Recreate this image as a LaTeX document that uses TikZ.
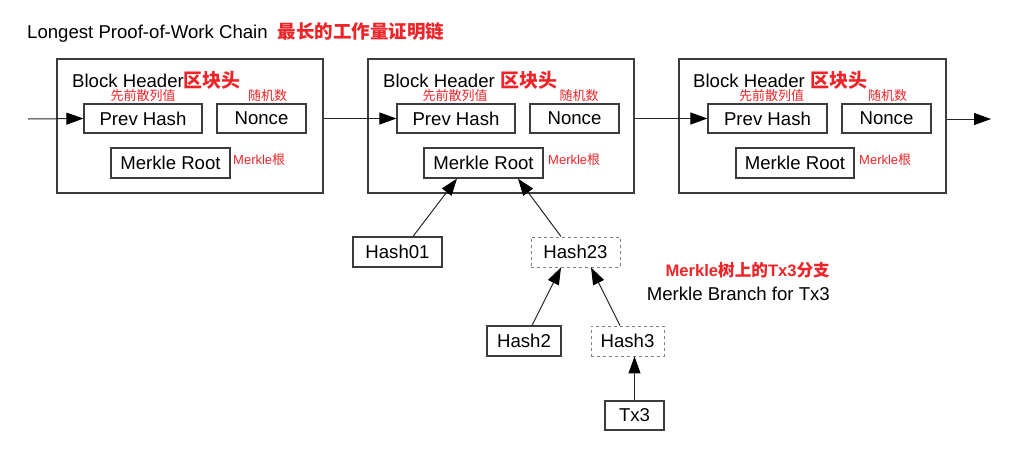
\documentclass[tikz,border=0pt]{standalone}
\usepackage{fontspec}
\setmainfont{Liberation Sans}
\newfontfamily\cjk{Noto Sans CJK SC}
\usetikzlibrary{arrows.meta}
\definecolor{redtxt}{RGB}{238,36,40}
\definecolor{boxline}{RGB}{60,60,60}
\begin{document}
\begin{tikzpicture}[x=1pt,y=-1pt,
  big/.style={font=\fontsize{18.6}{21}\selectfont},
  outerbox/.style={draw=boxline,line width=1.2pt,minimum width=266pt,minimum height=134pt,inner sep=0pt},
  fieldbox/.style={draw=boxline,line width=1.2pt,minimum height=29pt,inner sep=0pt,big},
  dbox/.style={fieldbox,draw=gray,dashed,line width=0.9pt},
  smallred/.style={text=redtxt,font=\fontsize{13}{15}\selectfont,inner sep=0pt},
  conn/.style={line width=1pt,draw=black!85,-{Triangle[length=17pt,width=12pt,color=black]}}]
\useasboundingbox (0,0) rectangle (1012,448);
% title
\node[big,anchor=base west,inner sep=0pt] (title) at (27,38) {Longest Proof-of-Work Chain\hspace{10pt}{\cjk\bfseries\fontsize{18.5}{21}\selectfont\color{redtxt}最长的工作量证明链}};
% block 1
\node[outerbox] (b1) at (190,126) {};
\node[big,anchor=base west,inner sep=0pt] (t1) at (72,87) {Block Header{\cjk\bfseries\fontsize{19}{21}\selectfont\color{redtxt}区块头}};
\node[fieldbox,minimum width=118pt] (p1) at (143,118.5) {Prev Hash};
\node[fieldbox,minimum width=89pt] (n1) at (261.5,118.5) {Nonce};
\node[fieldbox,minimum width=119pt,minimum height=30pt] (m1) at (170.5,163) {Merkle Root};
\node[smallred] (pl1) at (143,96) {\cjk 先前散列值};
\node[smallred] (nl1) at (267.5,96) {\cjk 随机数};
\node[smallred,anchor=west] (ml1) at (233,160) {Merkle{\cjk 根}};
% block 2
\node[outerbox] (b2) at (501,126) {};
\node[big,anchor=base west,inner sep=0pt] (t2) at (383,87) {Block Header {\cjk\bfseries\fontsize{19}{21}\selectfont\color{redtxt}区块头}};
\node[fieldbox,minimum width=118pt] (p2) at (456,118.5) {Prev Hash};
\node[fieldbox,minimum width=89pt] (n2) at (574.5,118.5) {Nonce};
\node[fieldbox,minimum width=119pt,minimum height=30pt] (m2) at (483.5,163) {Merkle Root};
\node[smallred] (pl2) at (455,96) {\cjk 先前散列值};
\node[smallred] (nl2) at (579,96) {\cjk 随机数};
\node[smallred,anchor=west] (ml2) at (548,160) {Merkle{\cjk 根}};
% block 3
\node[outerbox,minimum width=267pt] (b3) at (812.5,126) {};
\node[big,anchor=base west,inner sep=0pt] (t3) at (693,87) {Block Header {\cjk\bfseries\fontsize{19}{21}\selectfont\color{redtxt}区块头}};
\node[fieldbox,minimum width=119pt] (p3) at (767.5,118.5) {Prev Hash};
\node[fieldbox,minimum width=89pt] (n3) at (886.5,118.5) {Nonce};
\node[fieldbox,minimum width=118pt,minimum height=30pt] (m3) at (795,163) {Merkle Root};
\node[smallred] (pl3) at (771.5,96) {\cjk 先前散列值};
\node[smallred] (nl3) at (887.5,96) {\cjk 随机数};
\node[smallred,anchor=west] (ml3) at (859,160) {Merkle{\cjk 根}};
% chain arrows
\coordinate (start) at (28,119);
\coordinate (end) at (991,119);
\draw[conn] (start) -- (p1.west);
\draw[conn] (b1.east |- p2.west) -- (p2.west);
\draw[conn] (b2.east |- p3.west) -- (p3.west);
\draw[conn] (b3.east |- end) -- (end);
% merkle tree
\node[fieldbox,minimum width=89pt,minimum height=30pt] (h01) at (397.5,252) {Hash01};
\node[dbox,minimum width=89pt,minimum height=30pt] (h23) at (575.5,252) {Hash23};
\node[fieldbox,minimum width=74pt,minimum height=30pt] (h2) at (524,341) {Hash2};
\node[dbox,minimum width=73pt,minimum height=30pt] (h3) at (627.5,341) {Hash3};
\node[fieldbox,minimum width=59pt] (tx3) at (634.5,415.5) {Tx3};
\draw[conn] ([xshift=15.5pt]h01.north) -- ([xshift=-26.5pt]m2.south);
\draw[conn] ([xshift=-14.5pt]h23.north) -- ([xshift=34.5pt]m2.south);
\draw[conn] ([xshift=8pt]h2.north) -- ([xshift=-14.5pt]h23.south);
\draw[conn] ([xshift=-7.5pt]h3.north) -- ([xshift=15.5pt]h23.south);
\draw[conn] (tx3.north) -- (tx3.north |- h3.south);
% branch label
\node[anchor=base east,inner sep=0pt,text=redtxt,font=\fontsize{16.6}{20}\selectfont\bfseries] (bl1) at (830,276) {Merkle{\cjk 树上的}Tx3{\cjk 分支}};
\node[big,anchor=base east,inner sep=0pt] (bl2) at (830,300) {Merkle Branch for Tx3};
\end{tikzpicture}
\end{document}
